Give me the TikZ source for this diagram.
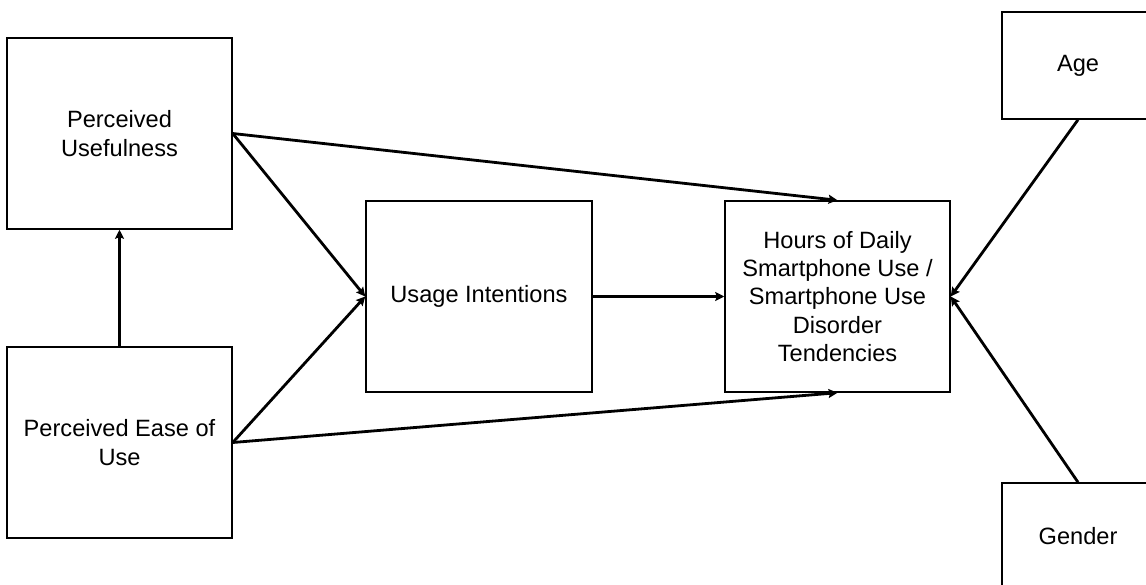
\documentclass[tikz,border=0pt]{standalone}
\usepackage{fontspec}
\setmainfont{Liberation Sans}
\usetikzlibrary{arrows.meta}
\begin{document}
\begin{tikzpicture}[x=1pt,y=-1pt,
  box/.style={draw=black, line width=1.5pt, rectangle, inner sep=0pt,
    align=center, font=\fontsize{23.6}{28.3}\selectfont},
  link/.style={draw=black, line width=2.8pt,
    -{Stealth[length=9pt,width=9pt,inset=1.5pt]}}]
  \useasboundingbox (0,0) rectangle (1146,585);
  \begin{scope}
  \clip (0,0) rectangle (1146,585);
  % constructs
  \node[box, minimum width=225pt, minimum height=191pt] (pu) at (119.5,133.5) {Perceived\\Usefulness};
  \node[box, minimum width=225pt, minimum height=191pt] (peu) at (119.5,442.5) {Perceived Ease of\\Use};
  \node[box, minimum width=226pt, minimum height=191pt] (ui) at (479,296.5) {Usage Intentions};
  \node[box, minimum width=225pt, minimum height=191pt] (hrs) at (837.5,296.5)
    {Hours of Daily\\Smartphone Use /\\Smartphone Use\\Disorder\\Tendencies};
  % moderators at the right edge
  \node[box, minimum width=152pt, minimum height=107pt] (age) at (1078,65.5) {Age};
  \node[box, minimum width=152pt, minimum height=107pt] (gen) at (1078,536.5) {Gender};
  \end{scope}
  % paths
  \draw[link] (peu.north) -- (pu.south);
  \draw[link] (pu.east) -- (ui.west);
  \draw[link] (peu.east) -- (ui.west);
  \draw[link] (pu.east) -- (hrs.north);
  \draw[link] (peu.east) -- (hrs.south);
  \draw[link] (ui.east) -- (hrs.west);
  \draw[link] (age.south) -- (hrs.east);
  \draw[link] (gen.north) -- (hrs.east);
\end{tikzpicture}
\end{document}
